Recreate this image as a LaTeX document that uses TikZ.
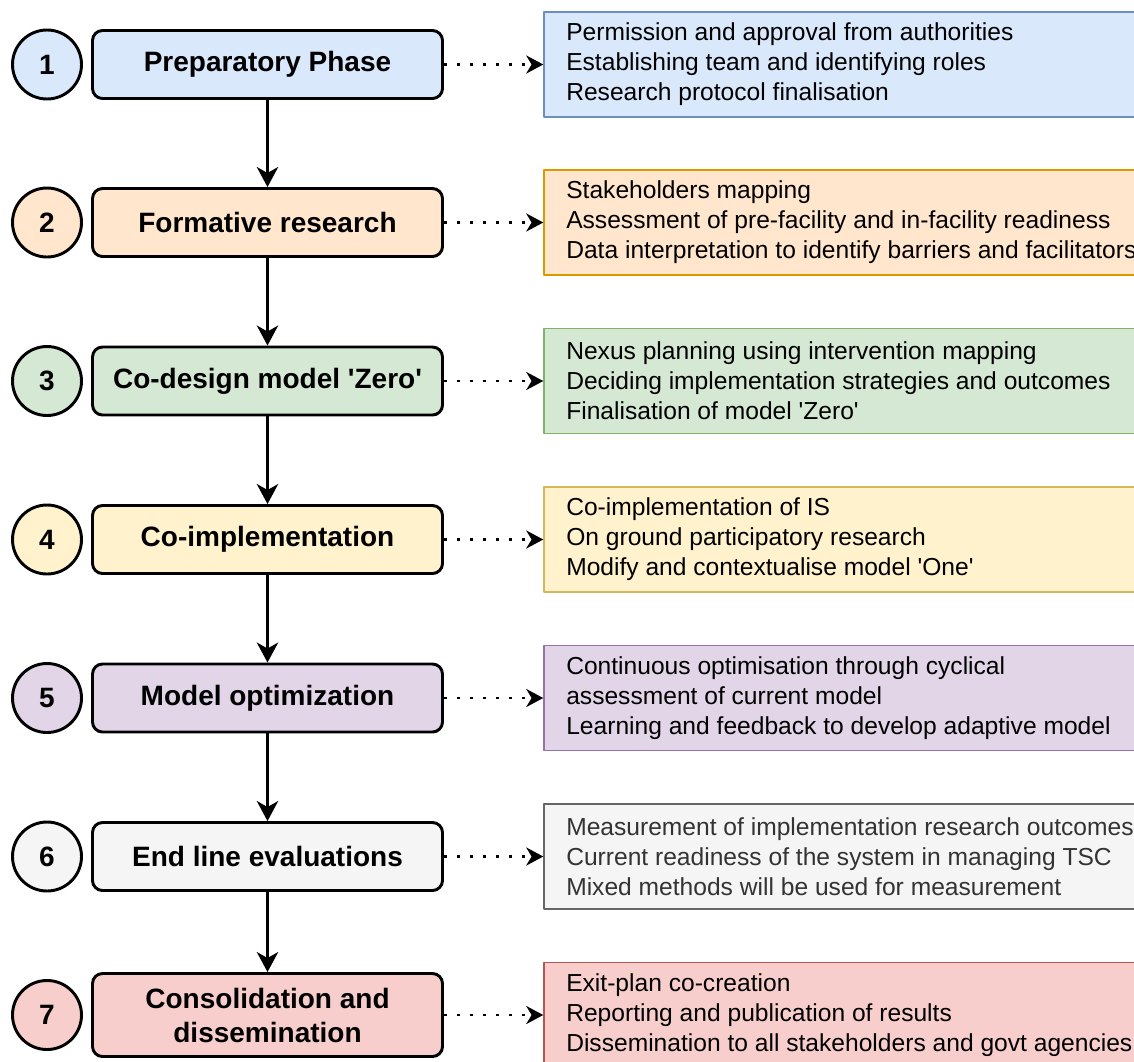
\documentclass[tikz,border=0pt]{standalone}
\usepackage{fontspec}
\setmainfont{Liberation Sans}
\usepackage{tikz}
\usetikzlibrary{positioning}
\usetikzlibrary{arrows.meta}

\definecolor{bluefill}{HTML}{DAE8FC}   \definecolor{bluedraw}{HTML}{6C8EBF}
\definecolor{orangefill}{HTML}{FFE6CC} \definecolor{orangedraw}{HTML}{D79B00}
\definecolor{greenfill}{HTML}{D5E8D4}  \definecolor{greendraw}{HTML}{82B366}
\definecolor{yellowfill}{HTML}{FFF2CC} \definecolor{yellowdraw}{HTML}{D6B656}
\definecolor{purplefill}{HTML}{E1D5E7} \definecolor{purpledraw}{HTML}{9673A6}
\definecolor{grayfill}{HTML}{F5F5F5}   \definecolor{graydraw}{HTML}{666666}
\definecolor{redfill}{HTML}{F8CECC}    \definecolor{reddraw}{HTML}{B85450}
\definecolor{graytext}{HTML}{333333}

\begin{document}
\begin{tikzpicture}[x=0.75pt, y=-0.75pt, line join=round,
    stepbox/.style={draw=black, line width=2.2pt, rounded corners=7.5pt, minimum width=262.5pt,
        minimum height=51pt, align=center, font=\fontsize{21}{25.5}\selectfont\bfseries},
    numcircle/.style={circle, draw=black, line width=2.2pt, minimum size=51.75pt, inner sep=0pt,
        font=\fontsize{21}{25}\selectfont\bfseries},
    sidebox/.style={draw, line width=1.1pt, minimum width=444pt, minimum height=78.75pt, inner sep=0pt},
    sidetext/.style={anchor=west, inner sep=0pt, align=left, font=\fontsize{18.45}{22.5}\selectfont},
    flow/.style={-{Stealth[length=15pt, width=16pt, inset=4.5pt]}, line width=2.2pt},
    link/.style={-{Stealth[length=12.75pt, width=13.5pt, inset=4pt]}, line width=2pt,
        dash pattern=on 2pt off 7.75pt}]
            % frame of the picture
            \useasboundingbox (0,0) rectangle (1134,1061);
            \clip (0,0) rectangle (1134,1061);

            % step numbers
            \node[numcircle, fill=bluefill]   (n1) at (47,64.5)  {1};
            \node[numcircle, fill=orangefill] (n2) at (47,222.5) {2};
            \node[numcircle, fill=greenfill]  (n3) at (47,381)   {3};
            \node[numcircle, fill=yellowfill] (n4) at (47,539.5) {4};
            \node[numcircle, fill=purplefill] (n5) at (47,698)   {5};
            \node[numcircle, fill=grayfill]   (n6) at (47,856.5) {6};
            \node[numcircle, fill=redfill]    (n7) at (47,1015)  {7};

            % phases
            \node[stepbox, fill=bluefill]   (p1) at (267.5,64.5)  {Preparatory Phase};
            \node[stepbox, fill=orangefill] (p2) at (267.5,222.5) {Formative research};
            \node[stepbox, fill=greenfill]  (p3) at (267.5,381)   {Co-design model \textquotesingle Zero\textquotesingle};
            \node[stepbox, fill=yellowfill] (p4) at (267.5,539.5) {Co-implementation};
            \node[stepbox, fill=purplefill] (p5) at (267.5,698)   {Model optimization};
            \node[stepbox, fill=grayfill]   (p6) at (267.5,856.5) {End line evaluations};
            \node[stepbox, fill=redfill, minimum height=62.25pt] (p7) at (267.5,1015) {Consolidation and\\dissemination};

            % details of each phase
            \node[sidebox, draw=bluedraw, fill=bluefill] (d1) at (840,64.5) {};
            \node[sidetext] (t1) at (566,64.5) {Permission and approval from authorities\\
                Establishing team and identifying roles\\Research protocol finalisation};
            \node[sidebox, draw=orangedraw, fill=orangefill] (d2) at (840,222.5) {};
            \node[sidetext] (t2) at (566,222.5) {Stakeholders mapping\\
                Assessment of pre-facility and in-facility readiness\\
                Data interpretation to identify barriers and facilitators};
            \node[sidebox, draw=greendraw, fill=greenfill] (d3) at (840,381) {};
            \node[sidetext] (t3) at (566,381) {Nexus planning using intervention mapping\\
                Deciding implementation strategies and outcomes\\
                Finalisation of model \textquotesingle Zero\textquotesingle};
            \node[sidebox, draw=yellowdraw, fill=yellowfill] (d4) at (840,539.5) {};
            \node[sidetext] (t4) at (566,539.5) {Co-implementation of IS\\
                On ground participatory research\\
                Modify and contextualise model \textquotesingle One\textquotesingle};
            \node[sidebox, draw=purpledraw, fill=purplefill] (d5) at (840,698) {};
            \node[sidetext] (t5) at (566,698) {Continuous optimisation through cyclical\\
                assessment of current model\\
                Learning and feedback to develop adaptive model};
            \node[sidebox, draw=graydraw, fill=grayfill] (d6) at (840,856.5) {};
            \node[sidetext, text=graytext] (t6) at (566,856.5) {Measurement of implementation research outcomes\\
                Current readiness of the system in managing TSC\\
                Mixed methods will be used for measurement};
            \node[sidebox, draw=reddraw, fill=redfill] (d7) at (840,1015) {};
            \node[sidetext] (t7) at (566,1015) {Exit-plan co-creation\\
                Reporting and publication of results\\
                Dissemination to all stakeholders and govt agencies};

            % flow between phases
            \draw[flow] (p1) -- (p2);
            \draw[flow] (p2) -- (p3);
            \draw[flow] (p3) -- (p4);
            \draw[flow] (p4) -- (p5);
            \draw[flow] (p5) -- (p6);
            \draw[flow] (p6) -- (p7);

            % dotted links to the details
            \draw[link] (p1) -- (d1);
            \draw[link] (p2) -- (d2);
            \draw[link] (p3) -- (d3);
            \draw[link] (p4) -- (d4);
            \draw[link] (p5) -- (d5);
            \draw[link] (p6) -- (d6);
            \draw[link] (p7) -- (d7);
\end{tikzpicture}
\end{document}
